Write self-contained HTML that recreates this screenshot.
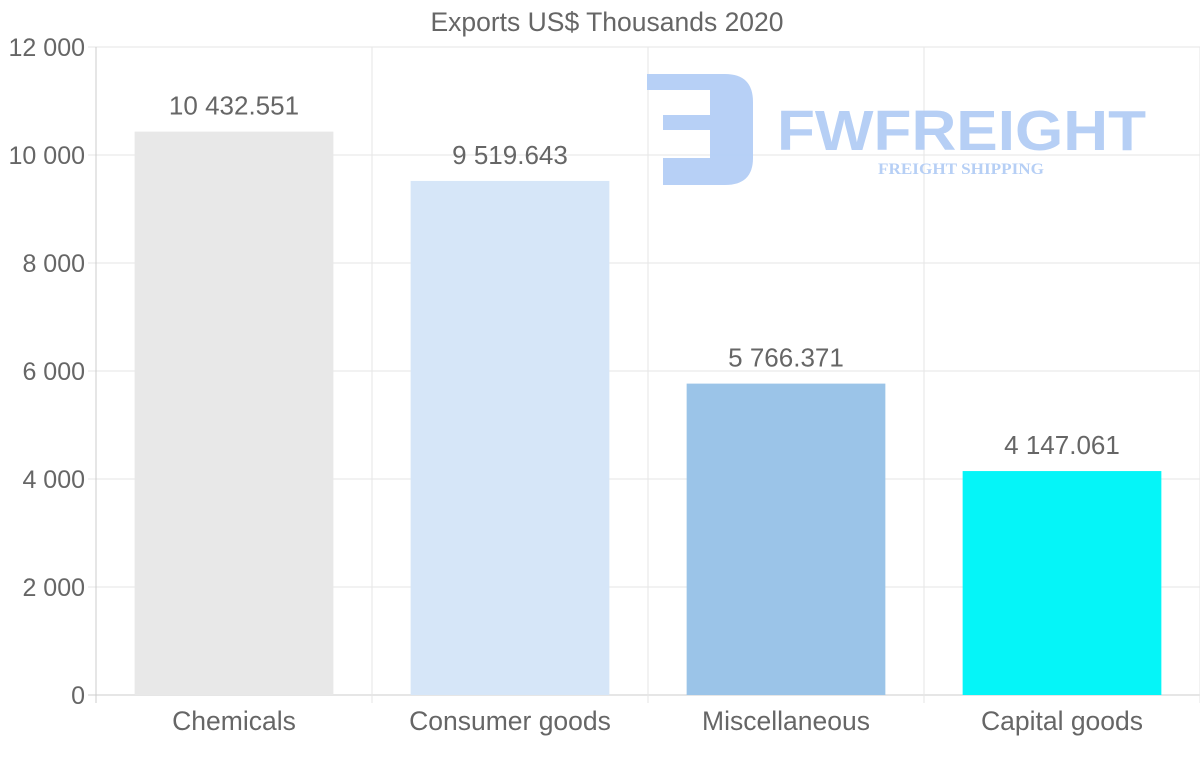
<!DOCTYPE html>
<html><head><meta charset="utf-8"><style>
html,body{margin:0;padding:0;background:#fff;}
svg{display:block;font-family:"Liberation Sans",sans-serif;}
</style></head><body>
<svg id="chart" width="1200" height="763" viewBox="0 0 1200 763">
<text x="607" y="31" text-anchor="middle" font-size="26.5" fill="#666">Exports US$ Thousands 2020</text>
<g id="grid"></g>
<g id="logo" opacity="0.95">
<path d="M647,74 H725 Q753,74 753,102 V158 Q753,185 725,185 H663 V158 H710 V130 H663 V115 H710 V90 H647 Z" fill="#b3cdf5"/>
<text x="777" y="150" font-size="57" font-weight="bold" fill="#b3cdf5" textLength="369" lengthAdjust="spacingAndGlyphs">FWFREIGHT</text>
<text x="878" y="174" font-family="Liberation Serif,serif" font-size="16" font-weight="bold" fill="#b3cdf5" textLength="166" lengthAdjust="spacingAndGlyphs">FREIGHT SHIPPING</text>
</g>
<g id="bars"></g>
</svg>
<script>
const categories=["Chemicals","Consumer goods","Miscellaneous","Capital goods"];
const values=[10432.551,9519.643,5766.371,4147.061];
const valueLabels=["10 432.551","9 519.643","5 766.371","4 147.061"];
const colors=["#e8e8e8","#d6e6f8","#9bc4e8","#05f5f8"];
const ticks=[0,2000,4000,6000,8000,10000,12000];
const tickLabels=["0","2 000","4 000","6 000","8 000","10 000","12 000"];
const NS="http://www.w3.org/2000/svg";
const L=96,R=1200,T=47,B=695,maxV=12000;
const y=v=>B-(v/maxV)*(B-T);
const band=(R-L)/categories.length;
const x=i=>L+band*i;
const grid=document.getElementById('grid'),bars=document.getElementById('bars');
function mk(tag,attrs,parent){const e=document.createElementNS(NS,tag);for(const k in attrs)e.setAttribute(k,attrs[k]);parent.appendChild(e);return e;}
ticks.forEach((t,i)=>{
 const ln=mk('line',{x1:L-8,x2:R,y1:y(t),y2:y(t),stroke:i===0?'#ccc':'#e6e6e6','stroke-width':1},grid);
 
 
 const tx=mk('text',{x:L-11,y:y(t)+9,'text-anchor':'end','font-size':25,fill:'#666'},grid);
 tx.textContent=tickLabels[i];
 
 
});
for(let i=0;i<=categories.length;i++){
 const ln=mk('line',{x1:x(i),x2:x(i),y1:T,y2:B+8,stroke:i===0?'#ccc':'#e6e6e6','stroke-width':1},grid);
 
 
}
categories.forEach((c,i)=>{
 const bw=band*0.72,bx=x(i)+(band-bw)/2;
 const r=mk('rect',{x:bx,y:y(values[i]),width:bw,height:B-y(values[i]),fill:colors[i]},bars);
 
 
 const v=mk('text',{x:x(i)+band/2,y:y(values[i])-17,'text-anchor':'middle','font-size':26,fill:'#666'},bars);
 v.textContent=valueLabels[i];
 
 
 const cl=mk('text',{x:x(i)+band/2,y:730,'text-anchor':'middle','font-size':26.5,fill:'#666'},bars);
 cl.textContent=c;
 
 
});
</script>
</body></html>
